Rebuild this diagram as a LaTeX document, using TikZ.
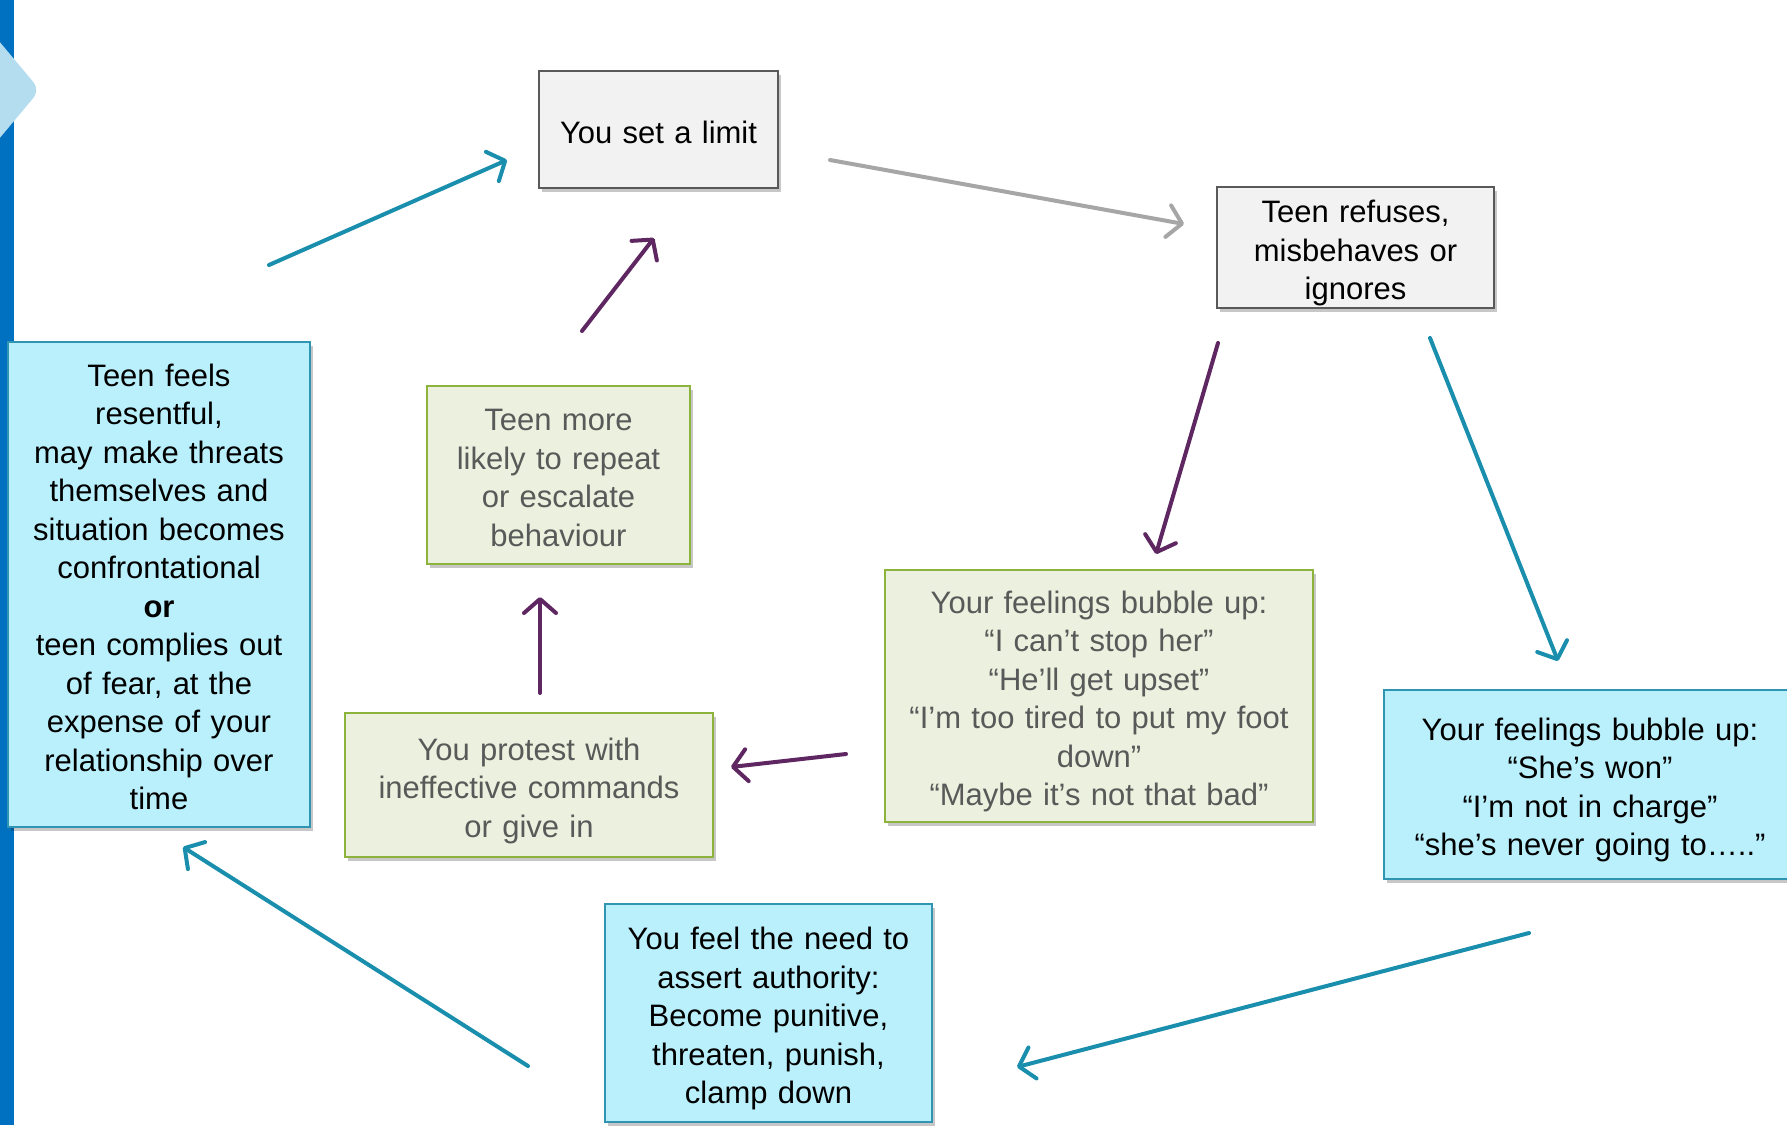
\documentclass[tikz,border=0pt]{standalone}
\usepackage{fontspec}
\setmainfont{Liberation Sans}[WordSpace=1.2]
\usetikzlibrary{arrows.meta,shadows}
\definecolor{barblue}{HTML}{0070C0}
\definecolor{chevblue}{HTML}{B4DDF0}
\definecolor{grayfill}{HTML}{F2F2F2}
\definecolor{grayline}{HTML}{595959}
\definecolor{cyanfill}{HTML}{B9F0FC}
\definecolor{cyanline}{HTML}{2F95B3}
\definecolor{greenfill}{HTML}{EBF1DE}
\definecolor{greenline}{HTML}{8CB43C}
\definecolor{greentext}{HTML}{595959}
\definecolor{tealarrow}{HTML}{1A8EAD}
\definecolor{purplearrow}{HTML}{5E2761}
\definecolor{grayarrow}{HTML}{A6A6A6}
\newcommand\tstr{\vrule width 0pt height 35pt depth 0pt\relax}
\newcommand\bstr{\vrule width 0pt height 0pt depth 8pt\relax}
\tikzset{
  boxbase/.style={rectangle, inner sep=0pt, align=center,
    font=\fontsize{31}{38.5}\selectfont,
    drop shadow={shadow xshift=3pt,shadow yshift=-4pt,opacity=0.22,fill=black}},
  graybox/.style={boxbase, fill=grayfill, draw=grayline, line width=2pt, text=black},
  cyanbox/.style={boxbase, fill=cyanfill, draw=cyanline, line width=2pt, text=black},
  greenbox/.style={boxbase, fill=greenfill, draw=greenline, line width=2.5pt, text=greentext},
  arr/.style={line width=4pt, line cap=round, -{Straight Barb[length=14pt,width=32pt,round]}},
  tealarr/.style={arr, draw=tealarrow},
  purparr/.style={arr, draw=purplearrow},
  grayarr/.style={arr, draw=grayarrow},
}
\begin{document}
\begin{tikzpicture}[x=1pt,y=-1pt]
\useasboundingbox (0,0) rectangle (1787,1125);
\fill[white] (0,0) rectangle (1787,1125);
% left bar and chevron
\fill[barblue] (0,0) rectangle (14,1125);
\fill[chevblue, rounded corners=10pt] (-12,28) -- (40,90) -- (-12,152) -- cycle;

% boxes
\node[graybox, minimum width=239pt, minimum height=117pt] (limit) at (658.5,129.5) {\tstr You set a limit\bstr};
\node[graybox, minimum width=277pt, minimum height=121pt] (refuse) at (1355.5,247.5) {\tstr Teen refuses,\\misbehaves or\\ignores\bstr};
\node[cyanbox, minimum width=302pt, minimum height=485pt] (resent) at (159,584.5) {\tstr Teen feels\\resentful,\\may make threats\\themselves and\\situation becomes\\confrontational\\\textbf{or}\\teen complies out\\of fear, at the\\expense of your\\relationship over\\time\bstr};
\node[greenbox, minimum width=263pt, minimum height=178pt] (repeat) at (558.5,475) {\tstr Teen more\\likely to repeat\\or escalate\\behaviour\bstr};
\node[greenbox, minimum width=368pt, minimum height=144pt] (protest) at (529,785) {\tstr You protest with\\ineffective commands\\or give in\bstr};
\node[greenbox, minimum width=428pt, minimum height=252pt] (feelg) at (1099,696) {\tstr Your feelings bubble up:\\“I can’t stop her”\\“He’ll get upset”\\“I’m too tired to put my foot\\down”\\“Maybe it’s not that bad”\bstr};
\node[cyanbox, minimum width=327pt, minimum height=218pt] (assert) at (768.5,1013) {\tstr You feel the need to\\assert authority:\\Become punitive,\\threaten, punish,\\clamp down\bstr};
\node[cyanbox, minimum width=412pt, minimum height=189pt] (feelc) at (1590,784.5) {\tstr Your feelings bubble up:\\“She’s won”\\“I’m not in charge”\\“she’s never going to…..”\bstr};

% arrow end points
\coordinate (a1s) at (269,265);   \coordinate (a1e) at (507,160);
\coordinate (a2s) at (582,331);   \coordinate (a2e) at (654,238);
\coordinate (a3s) at (830,160);   \coordinate (a3e) at (1184,224);
\coordinate (a4s) at (1218,343);  \coordinate (a4e) at (1156,554);
\coordinate (a5s) at (1430,338);  \coordinate (a5e) at (1558,661);
\coordinate (a6s) at (846,754);   \coordinate (a6e) at (731,767);
\coordinate (a7s) at (540,693);   \coordinate (a7e) at (540,597);
\coordinate (a8s) at (1529,933);  \coordinate (a8e) at (1017,1067);
\coordinate (a9s) at (528,1066);  \coordinate (a9e) at (183,847);

\draw[tealarr] (a1s) -- (a1e);
\draw[purparr] (a2s) -- (a2e);
\draw[grayarr] (a3s) -- (a3e);
\draw[purparr] (a4s) -- (a4e);
\draw[tealarr] (a5s) -- (a5e);
\draw[purparr] (a6s) -- (a6e);
\draw[purparr] (a7s) -- (a7e);
\draw[tealarr] (a8s) -- (a8e);
\draw[tealarr] (a9s) -- (a9e);
\end{tikzpicture}
\end{document}
